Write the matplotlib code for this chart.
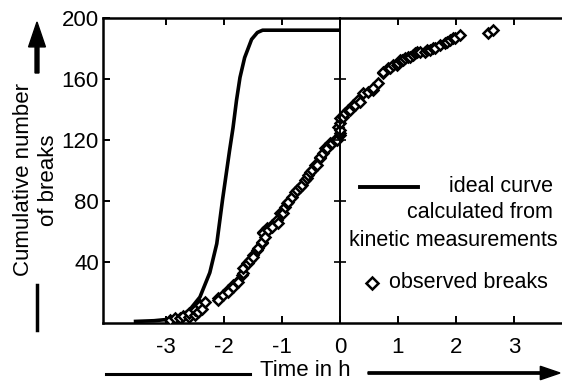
import matplotlib
matplotlib.use("Agg")
import matplotlib.pyplot as plt
from matplotlib.lines import Line2D
from matplotlib.patches import FancyArrow

plt.rcParams['font.family'] = ['Liberation Sans', 'DejaVu Sans']

# ideal curve (time in h, cumulative number)
ideal_t = [-3.55, -3.2, -2.93, -2.76, -2.59, -2.41, -2.24, -2.12, -2.02, -1.90, -1.84,
           -1.78, -1.72, -1.64, -1.52, -1.42, -1.33, 0.0]
ideal_n = [1, 1.5, 2.5, 4, 8.5, 17, 33, 52, 81, 113, 128, 146, 161, 174, 186, 190.5, 192, 192]

# observed breaks (time in h, cumulative number)
obs_t = [-2.93, -2.84, -2.76, -2.71, -2.59, -2.59, -2.50, -2.50, -2.45, -2.41, -2.38, -2.33,
         -2.10, -2.10, -2.02, -1.93, -1.93, -1.84, -1.84, -1.78, -1.76, -1.69, -1.67, -1.67,
         -1.60, -1.59, -1.55, -1.50, -1.50, -1.43, -1.41, -1.34, -1.34, -1.33, -1.33, -1.29,
         -1.26, -1.24, -1.17, -1.16, -1.09, -1.07, -1.03, -0.98, -0.95, -0.91, -0.90, -0.83,
         -0.78, -0.74, -0.69, -0.66, -0.60, -0.57, -0.55, -0.52, -0.48, -0.43, -0.40, -0.34,
         -0.34, -0.29, -0.26, -0.22, -0.17, -0.14, -0.09, -0.05, -0.03, 0.0, 0.0, 0.0, 0.0,
         0.0, 0.05, 0.09, 0.14, 0.17, 0.22, 0.26, 0.31, 0.34, 0.40, 0.48, 0.57, 0.57, 0.66,
         0.74, 0.74, 0.83, 0.86, 0.91, 0.98, 1.00, 1.03, 1.07, 1.09, 1.12, 1.17, 1.21, 1.26,
         1.29, 1.33, 1.38, 1.47, 1.50, 1.55, 1.60, 1.64, 1.72, 1.81, 1.84, 1.90, 1.95, 1.98,
         2.07, 2.55, 2.64]
obs_n = [2.0, 3.3, 3.3, 4.6, 3.9, 6.6, 5.2, 8.5, 7.2, 11.8, 9.2, 13.8,
         16.4, 15.1, 18.4, 21.6, 20.3, 24.9, 23.6, 26.9, 26.9, 31.5, 32.8, 36.1,
         39.3, 39.3, 41.3, 44.6, 43.3, 47.9, 49.2, 52.5, 53.1, 59.7, 59.0, 56.4,
         62.3, 61.0, 64.3, 62.9, 67.5, 65.6, 72.1, 72.1, 76.1, 78.7, 79.3, 82.6,
         85.9, 87.2, 89.2, 90.5, 93.8, 95.1, 97.0, 99.0, 100.3, 103.6, 103.6, 108.2,
         108.9, 111.5, 114.8, 114.8, 118.0, 118.0, 120.0, 120.0, 128.5, 123.3, 124.6, 126.5, 131.1,
         134.4, 135.1, 137.7, 139.7, 139.7, 143.0, 143.0, 146.2, 144.9, 150.8, 151.5, 152.8, 154.1, 157.4,
         163.9, 164.6, 167.2, 167.2, 169.2, 169.2, 170.5, 172.5, 172.5, 172.5, 173.8, 174.4, 174.4, 175.7,
         177.0, 177.7, 177.7, 177.7, 179.0, 179.0, 180.3, 180.3, 182.3, 183.6, 184.3, 185.6, 186.9, 186.9,
         188.9, 190.2, 192.1]

x_ticks = [-3, -2, -1, 0, 1, 2, 3]
x_ticklabels = ['-3', '-2', '-1', '0', '1', '2', '3']
y_ticks = [40, 80, 120, 160, 200]
y_ticklabels = ['40', '80', '120', '160', '200']

W, H = 562, 383
FS = 16
fig = plt.figure(figsize=(W / 100, H / 100), dpi=100)
fig.patch.set_facecolor('white')
ax = fig.add_axes([103 / W, 60 / H, (572 - 103) / W, (323 - 18) / H])
ax.set_xlim(-4.08, 4.0)
ax.set_ylim(0, 200)

ax.plot(ideal_t, ideal_n, color='black', lw=2.6, solid_capstyle='butt', zorder=3)
ax.plot(obs_t, obs_n, linestyle='none', marker='D', markersize=5.2, markerfacecolor='white',
        markeredgecolor='black', markeredgewidth=1.8, zorder=4)

for s in ['left', 'top', 'bottom']:
    ax.spines[s].set_linewidth(1.8)
ax.spines['right'].set_visible(False)
ax.set_xticks(x_ticks)
ax.set_xticklabels(x_ticklabels)
ax.set_yticks(y_ticks)
ax.set_yticklabels(y_ticklabels)
ax.tick_params(direction='in', length=5, width=1.4, top=True, labelsize=FS, colors='black')
ax.tick_params(axis='x', pad=10)
ax.tick_params(axis='y', pad=3)

# vertical axis at t = 0
ax2 = ax.twinx()
ax2.set_ylim(0, 200)
for s in ['left', 'top', 'bottom']:
    ax2.spines[s].set_visible(False)
ax2.spines['right'].set_position(('data', 0))
ax2.spines['right'].set_linewidth(1.4)
ax2.set_yticks([40, 80, 120, 160])
ax2.tick_params(direction='inout', length=9, width=1.2, labelright=False)

# y label with arrows
fig.text(36 / W, 1 - 180 / H, 'Cumulative number\nof breaks', rotation=90, ha='center',
         va='center', fontsize=FS, linespacing=1.22, multialignment='center')
fig.add_artist(FancyArrow(37 / W, 1 - 73 / H, 0, (73 - 22) / H, width=0.007, head_width=0.03,
                          head_length=0.065, length_includes_head=True, color='black',
                          transform=fig.transFigure))
fig.add_artist(Line2D([37 / W, 37 / W], [1 - 285 / H, 1 - 330 / H], color='black', lw=2.5))

# x label with arrows
fig.text(305 / W, 1 - 371 / H, 'Time in h', ha='center', va='center', fontsize=FS)
fig.add_artist(Line2D([106 / W, 250 / W], [1 - 374 / H] * 2, color='black', lw=2.2))
fig.add_artist(FancyArrow(368 / W, 1 - 373 / H, (560 - 368) / W, 0, width=0.006,
                          head_width=0.035, head_length=0.035, length_includes_head=True,
                          color='black', transform=fig.transFigure))

# legend
LFS = 15.5
fig.add_artist(Line2D([360 / W, 418 / W], [1 - 187 / H] * 2, color='black', lw=2.8))
fig.text(553 / W, 1 - 186 / H, 'ideal curve', ha='right', va='center', fontsize=LFS)
fig.text(553 / W, 1 - 213 / H, 'calculated from', ha='right', va='center', fontsize=LFS)
fig.text(558 / W, 1 - 241 / H, 'kinetic measurements', ha='right', va='center', fontsize=LFS)
fig.add_artist(Line2D([372 / W], [1 - 283 / H], marker='D', markersize=6, markerfacecolor='white',
                      markeredgecolor='black', markeredgewidth=1.8, linestyle='none'))
fig.text(389 / W, 1 - 282 / H, 'observed breaks', ha='left', va='center', fontsize=LFS)

fig.savefig('out.png', dpi=100)
